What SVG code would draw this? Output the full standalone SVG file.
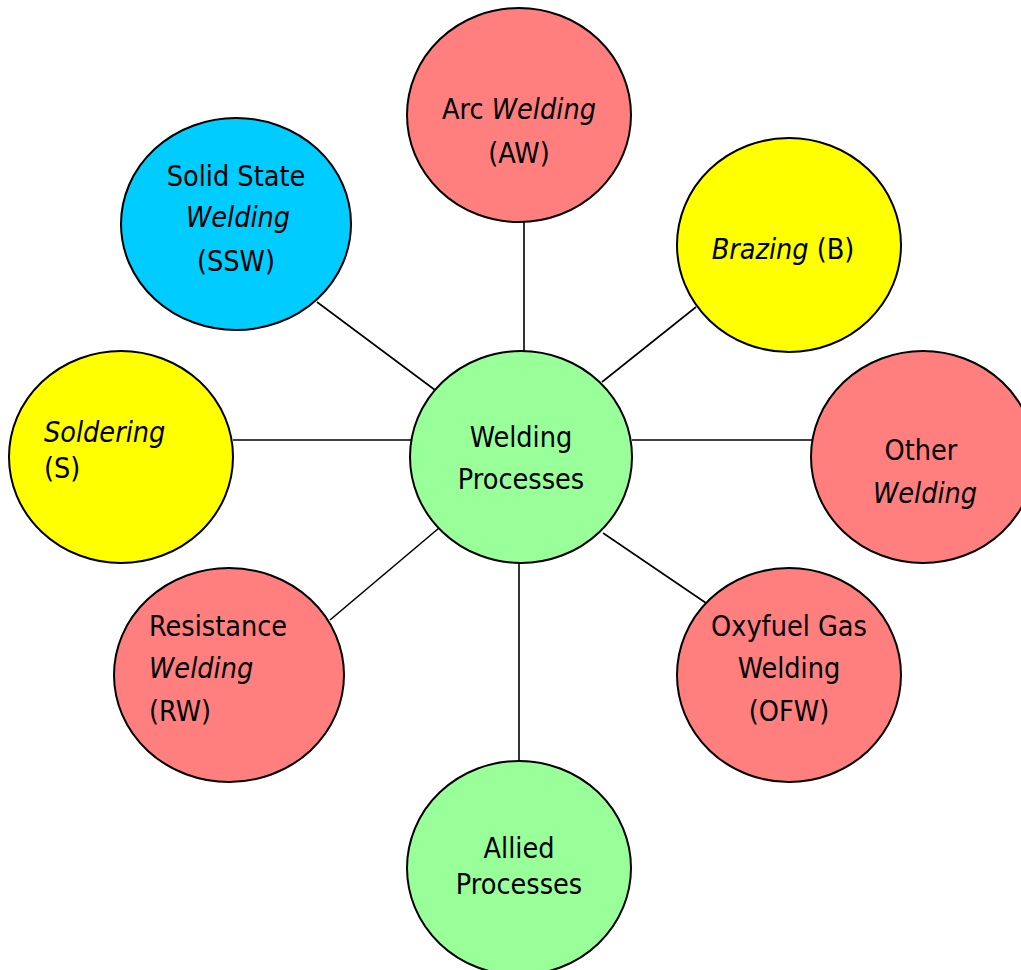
<svg xmlns="http://www.w3.org/2000/svg" width="1021" height="970" viewBox="0 0 1021 970">
<style>
.n{stroke:#000;stroke-width:2}
.red{fill:#FF7F7F}.yel{fill:#FFFF00}.cyan{fill:#00CCFF}.grn{fill:#99FF99}
text{font-family:"DejaVu Sans Condensed","DejaVu Sans",Verdana,sans-serif;font-stretch:condensed;font-size:28.5px;fill:#000}
.c{text-anchor:middle}
.i{font-style:italic}
#connectors line{stroke:#000;stroke-width:1.6}
</style>
<rect width="1021" height="970" fill="#fff"/>
<g id="connectors">
<line x1="524" y1="222" x2="524" y2="352"/>
<line x1="317" y1="302" x2="435" y2="390"/>
<line x1="696" y1="307" x2="602" y2="382"/>
<line x1="233" y1="440" x2="411" y2="440"/>
<line x1="632" y1="440" x2="812" y2="440"/>
<line x1="330" y1="620" x2="439" y2="528"/>
<line x1="706" y1="603" x2="603" y2="533"/>
<line x1="519" y1="562" x2="519" y2="762"/>
</g>
<g id="arc">
<ellipse class="n red" cx="519" cy="115" rx="112" ry="107"/>
<text class="c" x="519" y="119">Arc <tspan class="i">Welding</tspan></text>
<text class="c" x="519" y="163">(AW)</text>
</g>
<g id="ssw">
<ellipse class="n cyan" cx="236" cy="224" rx="115" ry="106"/>
<text class="c" x="236" y="186">Solid State</text>
<text class="c i" x="238" y="227">Welding</text>
<text class="c" x="236" y="271">(SSW)</text>
</g>
<g id="brazing">
<ellipse class="n yel" cx="789" cy="245" rx="112" ry="107"/>
<text class="c" x="783" y="259"><tspan class="i">Brazing</tspan> (B)</text>
</g>
<g id="soldering">
<ellipse class="n yel" cx="121" cy="457" rx="112" ry="106"/>
<text class="i" x="44" y="442">Soldering</text>
<text x="44" y="478">(S)</text>
</g>
<g id="other">
<ellipse class="n red" cx="923" cy="457" rx="112" ry="106"/>
<text class="c" x="921" y="460">Other</text>
<text class="c i" x="925" y="503">Welding</text>
</g>
<g id="center">
<ellipse class="n grn" cx="521" cy="457" rx="111" ry="106"/>
<text class="c" x="521" y="447">Welding</text>
<text class="c" x="521" y="489">Processes</text>
</g>
<g id="resistance">
<ellipse class="n red" cx="229" cy="675" rx="115" ry="107"/>
<text x="149" y="636">Resistance</text>
<text class="i" x="149" y="678">Welding</text>
<text x="149" y="721">(RW)</text>
</g>
<g id="oxyfuel">
<ellipse class="n red" cx="789" cy="675" rx="112" ry="107"/>
<text class="c" x="789" y="636">Oxyfuel Gas</text>
<text class="c" x="789" y="678">Welding</text>
<text class="c" x="789" y="721">(OFW)</text>
</g>
<g id="allied">
<ellipse class="n grn" cx="519" cy="868" rx="112" ry="107"/>
<text class="c" x="519" y="858">Allied</text>
<text class="c" x="519" y="894">Processes</text>
</g>
</svg>
